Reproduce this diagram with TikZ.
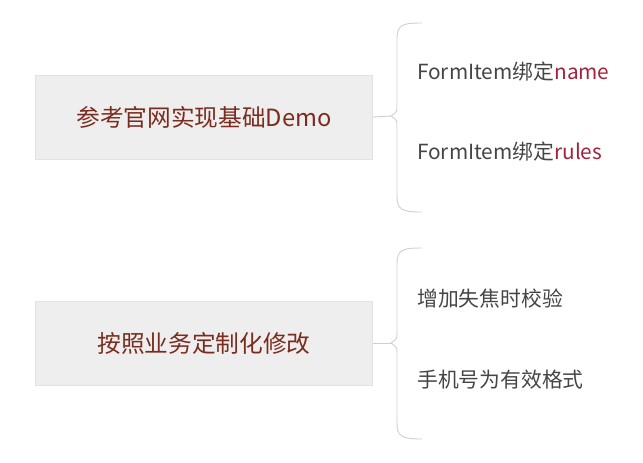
\documentclass[tikz,border=0pt]{standalone}
\usepackage{fontspec}
\setmainfont{Noto Sans CJK SC}
\usetikzlibrary{positioning}
\definecolor{boxfill}{HTML}{EFEEEE}
\definecolor{boxline}{HTML}{E4E2E0}
\definecolor{boxtext}{HTML}{7A2C1E}
\definecolor{leaftext}{HTML}{454545}
\definecolor{keyword}{HTML}{A3233A}
\definecolor{bracecol}{HTML}{CFCFCF}

\tikzset{
  topic/.style={draw=boxline, fill=boxfill, minimum width=337pt, minimum height=84pt,
    text=boxtext, font=\fontsize{23.7}{27}\selectfont, inner sep=0pt},
  leaf/.style={anchor=west, text=leaftext, font=\fontsize{20.8}{24}\selectfont, inner sep=0pt},
  bracket/.style={draw=bracecol, line width=0.9pt},
  link/.style={draw=bracecol, line width=0.9pt}
}

\begin{document}
\begin{tikzpicture}[x=1pt,y=-1pt]
  \useasboundingbox (0,0) rectangle (643,463);
  %first group
  \node[topic] (demo) at (204,117) {参考官网实现基础Demo};
  \node[leaf] (name) at (417,72) {FormItem绑定\textcolor{keyword}{name}};
  \node[leaf] (rules) at (417,152) {FormItem绑定\textcolor{keyword}{rules}};
  \coordinate (tipa) at (391,116);
  \draw[bracket] (422,23) .. controls (401,23) and (397,25) .. (397,40) -- (397,104)
    .. controls (397,112) .. (tipa) .. controls (397,120) .. (397,128) -- (397,196)
    .. controls (397,209) and (401,212) .. (422,212);
  \draw[link] (demo.east) -- (tipa);
  %second group
  \node[topic] (custom) at (204,343) {按照业务定制化修改};
  \node[leaf] (blur) at (417,299) {增加失焦时校验};
  \node[leaf] (phone) at (417,380) {手机号为有效格式};
  \coordinate (tipb) at (391,343);
  \draw[bracket] (422,248) .. controls (401,248) and (397,250) .. (397,265) -- (397,331)
    .. controls (397,339) .. (tipb) .. controls (397,347) .. (397,355) -- (397,423)
    .. controls (397,436) and (401,439) .. (422,439);
  \draw[link] (custom.east) -- (tipb);
\end{tikzpicture}
\end{document}
